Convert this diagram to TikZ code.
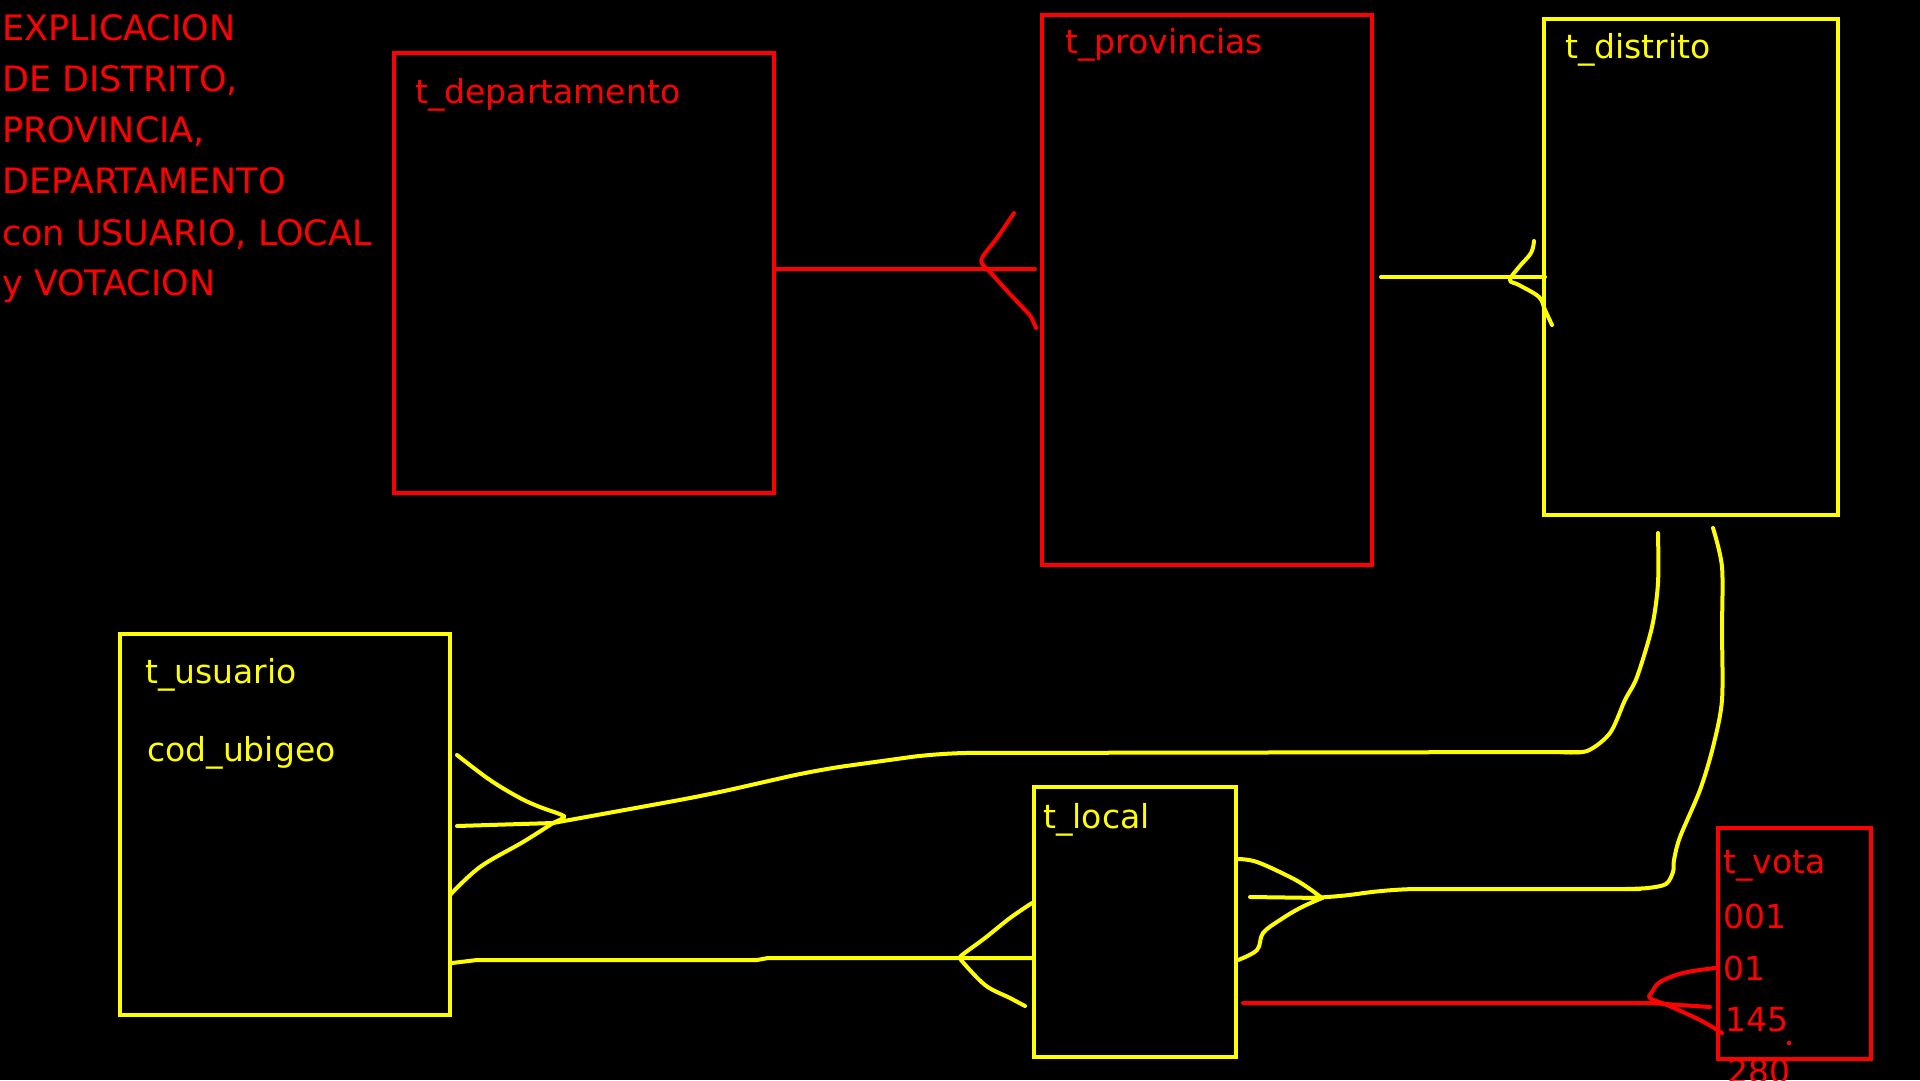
\documentclass[tikz,border=0pt]{standalone}
\usepackage{fontspec}
\setmainfont{DejaVu Sans}
\definecolor{pred}{RGB}{255,0,0}
\definecolor{pyel}{RGB}{255,255,0}
\tikzset{
  tbl/.style={draw, rectangle, line width=4pt, inner sep=0pt, outer sep=0pt, anchor=north west},
  redtbl/.style={tbl, draw=pred},
  yeltbl/.style={tbl, draw=pyel},
  lbl/.style={anchor=base west, inner sep=0pt, font=\fontsize{33}{40}\selectfont},
  ttl/.style={anchor=base west, inner sep=0pt, text=pred, font=\fontsize{35}{42}\selectfont},
  rline/.style={draw=pred, line width=4pt, line cap=round, line join=round},
  yline/.style={draw=pyel, line width=4pt, line cap=round, line join=round},
}
\begin{document}
\begin{tikzpicture}[x=1pt,y=-1pt]
\fill[black] (0,0) rectangle (1920,1080);
\useasboundingbox (0,0) rectangle (1920,1080);
\clip (0,0) rectangle (1920,1080);

% title
\node[ttl] (t1) at (2,40) {EXPLICACION};
\node[ttl] (t2) at (2,91) {DE DISTRITO,};
\node[ttl] (t3) at (2,142) {PROVINCIA,};
\node[ttl] (t4) at (2,193) {DEPARTAMENTO};
\node[ttl] (t5) at (2,245) {con USUARIO, LOCAL};
\node[ttl] (t6) at (2,295) {y VOTACION};

% tables
\node[redtbl, minimum width=380pt, minimum height=440pt] (dept) at (394,53) {};
\node[redtbl, minimum width=330pt, minimum height=550pt] (prov) at (1042,15) {};
\node[yeltbl, minimum width=294pt, minimum height=496pt] (dist) at (1544,19) {};
\node[yeltbl, minimum width=330pt, minimum height=381pt] (usu) at (120,634) {};
\node[yeltbl, minimum width=202pt, minimum height=270pt] (loc) at (1034,787) {};
\node[redtbl, minimum width=153pt, minimum height=231pt] (vota) at (1718,828) {};

% labels
\node[lbl, text=pred] (ldept) at (415,103) {t\_departamento};
\node[lbl, text=pred] (lprov) at (1065,53) {t\_provincias};
\node[lbl, text=pyel] (ldist) at (1565,58) {t\_distrito};
\node[lbl, text=pyel] (lusu) at (145,683) {t\_usuario};
\node[lbl, text=pyel] (lcod) at (147,761) {cod\_ubigeo};
\node[lbl, text=pyel] (lloc) at (1043,828) {t\_local};
\node[lbl, text=pred] (lvota) at (1723,873) {t\_vota};
\node[lbl, text=pred] (v1) at (1723,928) {001};
\node[lbl, text=pred] (v2) at (1723,980) {01};
\node[lbl, text=pred] (v3) at (1725,1031) {145};
\node[lbl, text=pred] (v4) at (1727,1083) {280};
\fill[pred] (1789,1043) circle (2.2);

% departamento -- provincias (red)
\draw[rline] (777,269) -- (1035,269);
\draw[rline] plot[smooth, tension=0.6] coordinates {(1014,213) (997,238) (982,258) (984,266) (990,272) (1009,293) (1025,310) (1031,317) (1036,328)};

% provincias -- distrito (yellow)
\draw[yline] (1381,277) -- (1545,277);
\draw[yline] plot[smooth, tension=0.6] coordinates {(1534,241) (1531,253) (1519,267) (1510,280) (1519,285) (1539,297) (1545,310) (1552,325)};

% usuario -- distrito (yellow)
\draw[yline, rounded corners=30pt] (553,823) -- (707,795) -- (817,770) -- (940,753) -- (1580,752);
\draw[yline] plot[smooth, tension=0.5] coordinates {(1560,752) (1587,751) (1610,733) (1625,700) (1637,677) (1652,627) (1658,583) (1658,533)};
\draw[yline] plot[smooth, tension=0.6] coordinates {(457,755) (490,780) (520,798) (540,807) (562,815) (563,818) (553,823)};
\draw[yline] (457,826) -- (553,823);
\draw[yline] plot[smooth, tension=0.6] coordinates {(450,895) (480,867) (523,842) (553,823)};

% local -- distrito (yellow)
\draw[yline, rounded corners=30pt] (1322,898) -- (1333,898) -- (1388,889) -- (1640,889);
\draw[yline] plot[smooth, tension=0.5] coordinates {(1625,889) (1648,888) (1666,884) (1673,872) (1674,860) (1680,837) (1700,790) (1713,747) (1722,700) (1722,630) (1722,567) (1713,528)};
\draw[yline] plot[smooth, tension=0.6] coordinates {(1238,859) (1257,862) (1290,877) (1307,887) (1322,898)};
\draw[yline] (1250,897) -- (1322,898);
\draw[yline] plot[smooth, tension=0.6] coordinates {(1238,960) (1257,950) (1263,933) (1280,920) (1300,908) (1322,898)};

% usuario -- local (yellow)
\draw[yline] (452,963) -- (477,960) -- (757,960) -- (768,958) -- (1032,958);
\draw[yline] plot[smooth, tension=0.6] coordinates {(1032,903) (1010,918) (985,938) (962,955) (961,958)};
\draw[yline] plot[smooth, tension=0.6] coordinates {(961,960) (985,985) (1010,998) (1025,1006)};

% local -- vota (red)
\draw[rline] (1243,1003) -- (1650,1003) -- (1710,1007);
\draw[rline] plot[smooth, tension=0.6] coordinates {(1715,968) (1683,973) (1660,982) (1652,992) (1650,998) (1667,1005) (1700,1020) (1722,1033)};
\end{tikzpicture}
\end{document}
